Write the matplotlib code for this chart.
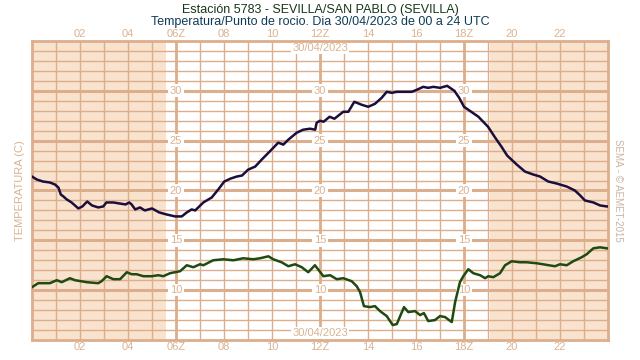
import matplotlib
matplotlib.use("Agg")
import matplotlib.pyplot as plt
import numpy as np

plt.rcParams['font.family'] = ['Liberation Sans', 'DejaVu Sans']

# ---- data ----
temp_hours = [0.00, 0.20, 0.46, 0.75, 0.96, 1.10, 1.20, 1.31, 1.45, 1.65, 1.93, 2.10, 2.30, 2.50,
              2.76, 2.97, 3.10, 3.39, 3.64, 3.90, 4.05, 4.15, 4.30, 4.50, 4.70, 5.00, 5.30, 5.60,
              5.96, 6.24, 6.45, 6.65, 6.80, 7.14, 7.49, 7.76, 8.01, 8.28, 8.53, 8.75, 9.01, 9.30,
              9.57, 9.90, 10.26, 10.47, 10.68, 11.03, 11.30, 11.58, 11.80, 11.86, 12.00, 12.15,
              12.40, 12.60, 12.97, 13.18, 13.43, 13.74, 14.01, 14.29, 14.57, 14.78, 14.99, 15.20,
              15.50, 15.82, 16.03, 16.30, 16.51, 16.72, 17.00, 17.30, 17.60, 17.80, 18.00, 18.30,
              18.60, 18.80, 19.00, 19.30, 19.56, 19.80, 20.20, 20.54, 20.89, 21.17, 21.51, 21.86,
              22.28, 22.62, 22.80, 23.04, 23.39, 23.67, 23.95, 24.00]
temp_values = [21.4, 21.1, 20.9, 20.8, 20.6, 20.3, 19.6, 19.4, 19.1, 18.8, 18.2, 18.4, 18.9, 18.5,
               18.3, 18.4, 18.8, 18.8, 18.7, 18.6, 18.8, 18.6, 18.1, 18.3, 18.0, 18.2, 17.8, 17.6,
               17.4, 17.4, 17.8, 18.1, 18.0, 18.8, 19.3, 20.1, 20.9, 21.2, 21.4, 21.5, 22.1, 22.4,
               23.1, 23.9, 24.8, 24.6, 25.1, 25.8, 26.1, 26.2, 26.1, 26.8, 27.0, 26.9,
               27.4, 27.2, 27.9, 27.9, 28.9, 28.6, 28.4, 28.7, 29.3, 29.9, 29.8, 29.9,
               29.9, 29.9, 30.1, 30.4, 30.3, 30.4, 30.3, 30.5, 30.0, 29.3, 28.4, 27.9,
               27.4, 26.9, 26.4, 25.3, 24.4, 23.5, 22.6, 21.9, 21.6, 21.4, 20.9, 20.7,
               20.4, 20.0, 19.6, 19.0, 18.8, 18.5, 18.4, 18.4]

dew_hours = [0.00, 0.26, 0.75, 1.03, 1.24, 1.58, 1.79, 2.28, 2.76, 2.90, 3.11, 3.39, 3.67, 3.95,
             4.15, 4.36, 4.64, 4.99, 5.26, 5.47, 5.75, 6.17, 6.45, 6.72, 7.00, 7.14, 7.55, 7.97,
             8.39, 8.80, 9.22, 9.50, 9.85, 10.05, 10.40, 10.68, 10.96, 11.24, 11.51, 11.79, 12.14,
             12.42, 12.70, 12.97, 13.32, 13.53, 13.67, 13.83, 14.08, 14.29, 14.50, 14.78, 15.03,
             15.20, 15.50, 15.68, 15.96, 16.17, 16.33, 16.51, 16.79, 17.00, 17.21, 17.49, 17.63,
             17.83, 17.97, 18.18, 18.39, 18.67, 18.88, 19.01, 19.22, 19.50, 19.71, 19.99, 20.33,
             20.61, 21.03, 21.79, 22.00, 22.28, 22.55, 22.90, 23.11, 23.39, 23.67, 23.95]
dew_values = [10.3, 10.7, 10.7, 11.0, 10.8, 11.2, 11.0, 10.8, 10.7, 10.9, 11.4, 11.1, 11.1, 11.8,
              11.6, 11.6, 11.4, 11.4, 11.5, 11.4, 11.7, 11.9, 12.5, 12.3, 12.6, 12.5, 13.0, 13.1,
              13.0, 13.2, 13.1, 13.2, 13.4, 13.1, 12.8, 12.4, 12.6, 12.3, 11.8, 12.5, 11.4,
              11.5, 11.1, 11.2, 10.9, 10.4, 9.8, 8.4, 8.3, 8.4, 7.9, 7.4, 6.5,
              6.6, 8.3, 7.8, 7.9, 7.5, 7.7, 6.9, 7.0, 7.4, 7.3, 6.8, 8.8,
              10.8, 11.4, 12.1, 11.7, 11.5, 11.2, 11.4, 11.3, 11.7, 12.5, 12.9, 12.8,
              12.8, 12.7, 12.4, 12.6, 12.5, 12.9, 13.3, 13.6, 14.2, 14.3, 14.2]

hour_ticks = [2, 4, 6, 8, 10, 12, 14, 16, 18, 20, 22]
hour_labels = ['02', '04', '06Z', '08', '10', '12Z', '14', '16', '18Z', '20', '22']
y_labels = [10, 15, 20, 25, 30]
night_spans = [(0, 5.6), (19.1, 24)]

# ---- styling ----
grid_c = '#dcae8c'
text_c = '#d9b392'
shade_c = '#f9e3cf'

fig = plt.figure(figsize=(6.4, 3.6), dpi=100)
ax = fig.add_axes([32/640, 20/360, 576/640, 299/360])
ax.set_xlim(0, 24)
ax.set_ylim(5, 35)

for a, b in night_spans:
    ax.axvspan(a, b, color=shade_c, lw=0, zorder=0)

for h in range(1, 24):
    lw = 2.0 if h % 6 == 0 else 1.0
    ax.axvline(h, color=grid_c, lw=lw, zorder=1)
for v in range(6, 35):
    lw = 2.2 if v % 5 == 0 else 1.0
    ax.axhline(v, color=grid_c, lw=lw, zorder=1)

for s in ax.spines.values():
    s.set_color(grid_c)
    s.set_linewidth(2)

ax.set_xticks(hour_ticks)
ax.set_xticklabels(hour_labels)
ax.set_yticks([])
ax.tick_params(axis='x', length=0, labelsize=8, labelcolor=text_c, pad=1.5,
               top=True, labeltop=True)

for h in [6, 12, 18]:
    for v in y_labels:
        ax.text(h, v, str(v), ha='center', va='center', fontsize=8, color=text_c,
                bbox=dict(facecolor='white', edgecolor='none', pad=1.0), zorder=2)

ax.text(12, 34.3, '30/04/2023', ha='center', va='center', fontsize=8, color=text_c,
        bbox=dict(facecolor='white', edgecolor='none', pad=1.0), zorder=2)
ax.text(12, 5.7, '30/04/2023', ha='center', va='center', fontsize=8, color=text_c,
        bbox=dict(facecolor='white', edgecolor='none', pad=1.0), zorder=2)

ax.plot(temp_hours, temp_values, color='#1a0e3c', lw=1.8, zorder=3)
ax.plot(dew_hours, dew_values, color='#1f4a12', lw=1.8, zorder=3)

fig.text(0.5, 1 - 10/360, 'Estación 5783 - SEVILLA/SAN PABLO (SEVILLA)', ha='center', va='center',
         fontsize=9, color='#17361a')
fig.text(0.5, 1 - 22/360, 'Temperatura/Punto de rocio. Dia 30/04/2023 de 00 a 24 UTC', ha='center',
         va='center', fontsize=9, color='#0f3b58')
fig.text(20/640, 1 - 191/360, 'TEMPERATURA (C)', rotation=90, ha='center', va='center',
         fontsize=8, color=text_c)
fig.text(618/640, 1 - 190/360, 'SEMA - © AEMET-2015', rotation=-90, ha='center', va='center',
         fontsize=7, color='#c8b4a4')

fig.savefig('out.png', dpi=100)
